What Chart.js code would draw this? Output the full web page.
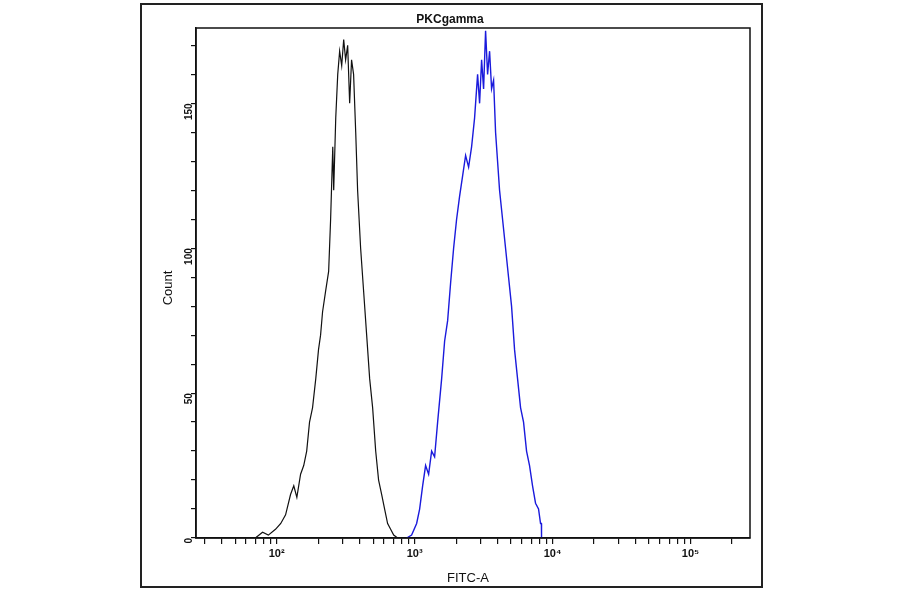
<!DOCTYPE html>
<html><head><meta charset="utf-8">
<script src="https://cdn.jsdelivr.net/npm/chart.js@4/dist/chart.umd.min.js"></script>
<style>
html,body{margin:0;padding:0;background:#fff;}
#wrap{position:absolute;left:0;top:0;width:900px;height:594px;}
#frame{position:absolute;left:140px;top:3px;width:623px;height:585px;border:2px solid #222;box-sizing:border-box;pointer-events:none;}
</style></head>
<body>
<div id="wrap"><canvas id="c" width="900" height="594"></canvas><div id="frame"></div></div>
<script>
const titleText = "PKCgamma";
const xTitle = "FITC-A";
const yTitle = "Count";
const xMin = 26, xMax = 270000;
const yMin = 0, yMax = 176;
const yTickLabels = [0, 50, 100, 150];
const xDecadeLabels = {100: "10\u00B2", 1000: "10\u00B3", 10000: "10\u2074", 100000: "10\u2075"};

const controlX = [70,79,87,98,107,116,126,133,140,149,157,165,173,182,192,201,208,215,226,238,246,255,259,268,277,286,296,306,316,327,338,349,361,374,386,406,427,449,472,496,522,548,577,606,637,670,705,753];
const controlY = [0,2,1,3,5,8,15,18,14,22,25,30,40,45,55,65,70,78,85,92,110,135,120,145,160,168,163,172,165,170,150,165,160,140,120,100,85,70,55,45,30,20,15,10,5,3,1,0];

const stainX = [875,951,1034,1087,1143,1201,1263,1328,1396,1468,1570,1650,1735,1823,1917,2015,2119,2228,2342,2462,2588,2721,2861,2958,3059,3162,3269,3380,3495,3613,3736,3862,3993,4128,4340,4563,4797,5043,5302,5574,5860,6161,6477,6809,7159,7526,7912,8183,8300,8318];
const stainY = [0,1,5,10,18,25,22,30,28,40,55,68,75,88,100,110,118,125,132,128,135,145,160,150,165,155,175,160,168,155,158,140,130,120,110,100,90,80,65,55,45,40,30,25,18,12,10,5,5,0];

const toPts = (xs, ys) => xs.map((x, i) => ({x: x, y: ys[i]}));

const deco = {
  id: 'deco',
  afterDraw(chart) {
    const {ctx, chartArea: a} = chart;
    ctx.save();
    ctx.strokeStyle = '#111'; ctx.lineWidth = 1.5;
    ctx.strokeRect(a.left, a.top, a.right - a.left, a.bottom - a.top);
    ctx.fillStyle = '#111';
    ctx.textAlign = 'center'; ctx.textBaseline = 'alphabetic';
    ctx.font = 'bold 12px "Liberation Sans", Arial, sans-serif';
    ctx.fillText(titleText, 450, 23);
    ctx.font = '13px "Liberation Sans", Arial, sans-serif';
    ctx.fillText(xTitle, 468, 582);
    ctx.translate(172, 288); ctx.rotate(-Math.PI / 2);
    ctx.fillText(yTitle, 0, 0);
    ctx.restore();
  }
};

new Chart(document.getElementById('c'), {
  type: 'line',
  data: {datasets: [
    {data: toPts(controlX, controlY), borderColor: '#111', borderWidth: 1.2, pointRadius: 0, tension: 0},
    {data: toPts(stainX, stainY), borderColor: '#1a1adc', borderWidth: 1.4, pointRadius: 0, tension: 0}
  ]},
  options: {
    responsive: false, animation: false,
    layout: {padding: {left: 156, right: 150, top: 28, bottom: 0}},
    plugins: {legend: {display: false}, tooltip: {enabled: false}},
    scales: {
      x: {
        type: 'logarithmic', min: xMin, max: xMax,
        afterFit(s) { s.height = 56; },
        afterBuildTicks(s) {
          const t = [];
          for (let d = 10; d <= 100000; d *= 10)
            for (let m = 1; m <= 9; m++) { const v = m * d; if (v >= xMin && v <= xMax) t.push({value: v}); }
          s.ticks = t;
        },
        grid: {drawOnChartArea: false, tickLength: 6, color: '#111', lineWidth: 1.2},
        border: {display: true, color: '#111', width: 1.5},
        ticks: {autoSkip: false, maxRotation: 0, minRotation: 0, padding: 3, color: '#111',
          font: {size: 11, weight: 'bold', family: '"Liberation Sans", Arial, sans-serif'},
          callback: (v) => xDecadeLabels[v] || ''}
      },
      y: {
        type: 'linear', min: yMin, max: yMax,
        afterFit(s) { s.width = 40; },
        afterBuildTicks(s) {
          const t = [];
          for (let v = 0; v <= yMax; v += 10) t.push({value: v});
          s.ticks = t;
        },
        grid: {drawOnChartArea: false, tickLength: 5, color: '#111', lineWidth: 1.2},
        border: {display: true, color: '#111', width: 1.5},
        ticks: {autoSkip: false, minRotation: 90, maxRotation: 90, padding: 2, color: '#111',
          font: {size: 10, weight: 'bold', family: '"Liberation Sans", Arial, sans-serif'},
          callback: (v) => yTickLabels.includes(v) ? String(v) : ''}
      }
    }
  },
  plugins: [deco]
});
</script>
</body></html>
